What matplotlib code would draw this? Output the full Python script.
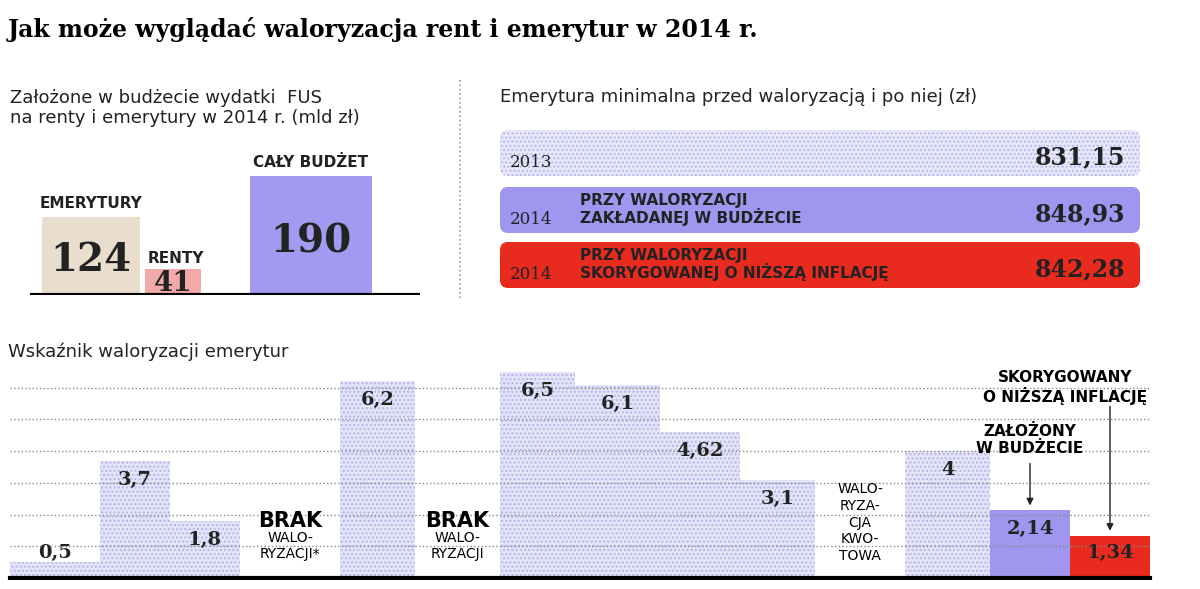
import matplotlib.pyplot as plt
from matplotlib.patches import FancyBboxPatch

W, H = 1200, 589

# top-left: FUS spending (bn zl)
fus_labels = ["EMERYTURY", "RENTY", "CAŁY BUDŻET"]
fus_values = [124, 41, 190]
fus_colors = ["#e9dece", "#f2aaa8", "#a29af0"]

# top-right: minimal pension
min_years = ["2013", "2014", "2014"]
min_notes = ["", "PRZY WALORYZACJI\nZAKŁADANEJ W BUDŻECIE", "PRZY WALORYZACJI\nSKORYGOWANEJ O NIŻSZĄ INFLACJĘ"]
min_values = ["831,15", "848,93", "842,28"]

# bottom: indexation index
idx_values = [0.5, 3.7, 1.8, 0, 6.2, 0, 6.5, 6.1, 4.62, 3.1, 0, 4, 2.14, 1.34]
idx_labels = ["0,5", "3,7", "1,8", "", "6,2", "", "6,5", "6,1", "4,62", "3,1", "", "4", "2,14", "1,34"]
idx_edges = [10, 100, 170, 240, 340, 415, 500, 575, 660, 740, 815, 905, 990, 1070, 1150]

fig = plt.figure(figsize=(12, 5.89), dpi=100)
fig.patch.set_facecolor("white")


def ax_px(x0, y0, x1, y1):
    # pixel box (top-left origin) -> axes
    return fig.add_axes([x0 / W, 1 - y1 / H, (x1 - x0) / W, (y1 - y0) / H])


fig.text(8 / W, 1 - 30 / H, "Jak może wyglądać waloryzacja rent i emerytur w 2014 r.",
         fontsize=17, fontweight="bold", family="DejaVu Serif", va="center")
fig.text(10 / W, 1 - 108 / H, "Założone w budżecie wydatki  FUS\nna renty i emerytury w 2014 r. (mld zł)",
         fontsize=13, va="center", color="#222")
fig.text(500 / W, 1 - 97 / H, "Emerytura minimalna przed waloryzacją i po niej (zł)",
         fontsize=13, va="center", color="#222")
fig.text(8 / W, 1 - 352 / H, "Wskaźnik waloryzacji emerytur", fontsize=13, va="center", color="#222")
fig.add_artist(plt.Line2D([460 / W, 460 / W], [1 - 80 / H, 1 - 300 / H], ls=":", color="#999", lw=1.2))

# top-left bars
ax1 = ax_px(30, 150, 420, 295)
xs = [91, 173, 311]
ws = [98, 56, 122]
ax1.bar(xs, fus_values, width=ws, color=fus_colors)
ax1.set_xlim(30, 420)
ax1.set_ylim(0, 190 / 119 * 145)
ax1.axhline(0, color="black", lw=3)
for x, v, lab in zip(xs, fus_values, fus_labels):
    fs = 28 if v > 100 else 20
    ax1.text(x, v * 0.45, str(v), ha="center", va="center", fontsize=fs, fontweight="bold",
             color="#222", family="DejaVu Serif")
ax1.text(xs[0], fus_values[0] + 10, fus_labels[0], ha="center", va="bottom", fontsize=11,
         color="#222", fontweight="bold")
ax1.text(xs[1] - 25, fus_values[1] + 5, fus_labels[1], ha="left", va="bottom", fontsize=11,
         color="#222", fontweight="bold")
ax1.text(xs[2], fus_values[2] + 10, fus_labels[2], ha="center", va="bottom", fontsize=11,
         color="#222", fontweight="bold")
ax1.axis("off")

# top-right rows
ax2 = ax_px(495, 125, 1145, 295)
ax2.set_xlim(495, 1145)
ax2.set_ylim(295, 125)
row_top = [130, 187, 242]
row_fc = ["#e8e8fa", "#9e96ef", "#e82a1f"]
row_hatch = ["....", None, None]
for top, fc, hatch, yr, note, val in zip(row_top, row_fc, row_hatch, min_years, min_notes, min_values):
    p = FancyBboxPatch((500, top), 640, 46, boxstyle="round,pad=0,rounding_size=8",
                       fc=fc, ec="#b8b8ee" if hatch else "none", hatch=hatch, lw=0)
    ax2.add_patch(p)
    ax2.text(510, top + 33, yr, fontsize=12, va="center", color="#222", family="DejaVu Serif")
    ax2.text(580, top + 23, note, fontsize=11, va="center", color="#222", linespacing=1.0,
             fontweight="bold")
    ax2.text(1125, top + 27, val, fontsize=17, fontweight="bold", va="center", ha="right",
             color="#222", family="DejaVu Serif")
ax2.axis("off")

# bottom step bars
ax3 = ax_px(0, 354, 1200, 580)
ax3.set_xlim(0, 1200)
ax3.set_ylim(-0.06, 226 / 32)
for gy in [1, 2, 3, 4, 5, 6]:
    ax3.axhline(gy, color="#888", ls=":", lw=1, xmin=10 / 1200, xmax=1150 / 1200)
lefts = idx_edges[:-1]
widths = [b - a for a, b in zip(idx_edges[:-1], idx_edges[1:])]
colors = ["#e4e4f8"] * 12 + ["#9e96ef", "#e82a1f"]
for i, (l, w, v, c) in enumerate(zip(lefts, widths, idx_values, colors)):
    ax3.bar(l, v, width=w, align="edge", color=c, hatch="...." if i < 12 else None,
            edgecolor="#b4b4ec" if i < 12 else c, lw=0)
    if idx_labels[i]:
        ax3.text(l + w / 2, max(v - 0.6, 0.8), idx_labels[i], ha="center", va="center",
                 fontsize=14, fontweight="bold", color="#222", family="DejaVu Serif")
ax3.axhline(0, color="black", lw=3, xmin=10 / 1200, xmax=1150 / 1200)
ax3.text(290, 1.8, "BRAK", ha="center", va="center", fontsize=15, fontweight="bold")
ax3.text(290, 1.0, "WALO-\nRYZACJI*", ha="center", va="center", fontsize=10, linespacing=1.2)
ax3.text(457, 1.8, "BRAK", ha="center", va="center", fontsize=15, fontweight="bold")
ax3.text(457, 1.0, "WALO-\nRYZACJI", ha="center", va="center", fontsize=10, linespacing=1.2)
ax3.text(860, 1.75, "WALO-\nRYZA-\nCJA\nKWO-\nTOWA", ha="center", va="center", fontsize=10, linespacing=1.25)
ax3.text(1065, 6.0, "SKORYGOWANY\nO NIŻSZĄ INFLACJĘ", ha="center", va="center", fontsize=11,
         linespacing=1.1, fontweight="bold")
ax3.text(1030, 4.35, "ZAŁOŻONY\nW BUDŻECIE", ha="center", va="center", fontsize=11,
         linespacing=1.1, fontweight="bold")
ax3.annotate("", xy=(1030, 2.2), xytext=(1030, 3.7), arrowprops=dict(arrowstyle="-|>", color="#222", lw=1))
ax3.annotate("", xy=(1110, 1.4), xytext=(1110, 5.5), arrowprops=dict(arrowstyle="-|>", color="#222", lw=1))
ax3.axis("off")

fig.savefig("out.png", dpi=100)
